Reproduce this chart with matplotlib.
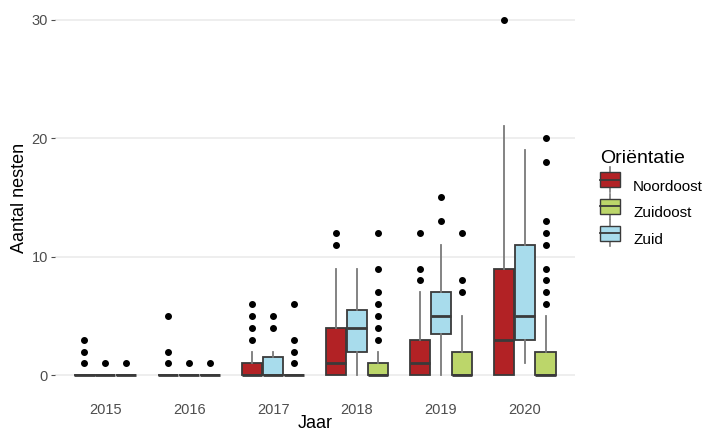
import matplotlib
matplotlib.use("Agg")
import matplotlib.pyplot as plt
from matplotlib.legend_handler import HandlerBase
from matplotlib.patches import Rectangle
from matplotlib.lines import Line2D

plt.rcParams['font.family'] = ['Liberation Sans', 'DejaVu Sans']

jaren = ['2015', '2016', '2017', '2018', '2019', '2020']
reeksen = ['Noordoost', 'Zuid', 'Zuidoost']   # volgorde binnen elk jaar
legende_volgorde = ['Noordoost', 'Zuidoost', 'Zuid']
kleuren = {'Noordoost': '#B22225', 'Zuidoost': '#BCD66A', 'Zuid': '#A8DCEC'}

# boxplot-statistieken per jaar
nd_q1 = [0, 0, 0, 0, 0, 0]
nd_med = [0, 0, 0, 1, 1, 3]
nd_q3 = [0, 0, 1, 4, 3, 9]
nd_lo = [0, 0, 0, 0, 0, 0]
nd_hi = [0, 0, 2, 9, 7, 21]
nd_out = [[1, 2, 3], [1, 2, 5], [3, 4, 5, 6], [11, 12], [8, 9, 12], [30]]

z_q1 = [0, 0, 0, 2, 3.5, 3]
z_med = [0, 0, 0, 4, 5, 5]
z_q3 = [0, 0, 1.5, 5.5, 7, 11]
z_lo = [0, 0, 0, 0, 0, 1]
z_hi = [0, 0, 2, 9, 11, 19]
z_out = [[1], [1], [4, 5], [], [13, 15], []]

zo_q1 = [0, 0, 0, 0, 0, 0]
zo_med = [0, 0, 0, 0, 0, 0]
zo_q3 = [0, 0, 0, 1, 2, 2]
zo_lo = [0, 0, 0, 0, 0, 0]
zo_hi = [0, 0, 0, 2, 5, 5]
zo_out = [[1], [1], [1, 2, 3, 6], [3, 4, 5, 6, 7, 9, 12], [7, 8, 12],
          [6, 7, 8, 9, 11, 12, 13, 18, 20]]

stats = {
    'Noordoost': (nd_q1, nd_med, nd_q3, nd_lo, nd_hi, nd_out),
    'Zuid': (z_q1, z_med, z_q3, z_lo, z_hi, z_out),
    'Zuidoost': (zo_q1, zo_med, zo_q3, zo_lo, zo_hi, zo_out),
}

rand = '#3A3A3A'
snor = '#7A7A7A'

fig = plt.figure(figsize=(7.08, 4.33), dpi=100)
ax = fig.add_axes([55 / 708, 1 - 393 / 433, (575 - 55) / 708, (393 - 2) / 433])

breedte = 0.25
for k, naam in enumerate(reeksen):
    q1, med, q3, lo, hi, out = stats[naam]
    bxp = []
    for i in range(len(jaren)):
        bxp.append(dict(q1=q1[i], med=med[i], q3=q3[i],
                        whislo=lo[i], whishi=hi[i], fliers=out[i]))
    pos = [i + 1 + (k - 1) * breedte for i in range(len(jaren))]
    ax.bxp(bxp, positions=pos, widths=breedte * 0.97, patch_artist=True,
           showcaps=False,
           boxprops=dict(facecolor=kleuren[naam], edgecolor=rand, linewidth=1.3),
           medianprops=dict(color=rand, linewidth=2.0),
           whiskerprops=dict(color=snor, linewidth=1.3),
           flierprops=dict(marker='o', markerfacecolor='black',
                           markeredgecolor='black', markersize=4),
           manage_ticks=False, zorder=3)

ax.set_xlim(0.4, 6.6)
ax.set_ylim(-1.5, 31.5)
ax.set_xticks(range(1, 7))
ax.set_xticklabels(jaren)
ax.set_yticks([0, 10, 20, 30])
ax.grid(axis='y', color='#EBEBEB', linewidth=1.2, zorder=0)
ax.set_axisbelow(True)
for s in ax.spines.values():
    s.set_visible(False)
ax.tick_params(axis='y', length=3, color='#4D4D4D', labelcolor='#4D4D4D',
               labelsize=10.5, pad=2)
ax.tick_params(axis='x', length=0, labelcolor='#4D4D4D', labelsize=10.5, pad=7)
ax.set_xlabel('Jaar', fontsize=13, color='black', labelpad=-1)
ax.set_ylabel('Aantal nesten', fontsize=13, color='black', labelpad=3)


class BoxHandler(HandlerBase):
    def create_artists(self, legend, orig, xd, yd, w, h, fontsize, trans):
        kleur = orig.get_facecolor()
        cx = xd + w / 2
        lijn = Line2D([cx, cx], [yd - h * 0.3, yd + h * 1.3], color=snor,
                      linewidth=1.2, transform=trans)
        box = Rectangle((xd, yd + h * 0.05), w, h * 0.9,
                        facecolor=kleur, edgecolor=rand, linewidth=1.0,
                        transform=trans)
        mid = Line2D([xd, xd + w], [yd + h / 2, yd + h / 2],
                     color=rand, linewidth=1.3, transform=trans)
        return [lijn, box, mid]


handles = [Rectangle((0, 0), 1, 1, facecolor=kleuren[n]) for n in legende_volgorde]
leg = fig.legend(handles, legende_volgorde, loc='upper left',
                 bbox_to_anchor=(592 / 708, 1 - 142 / 433), frameon=False,
                 title='Oriëntatie', title_fontsize=14, fontsize=11,
                 handler_map={Rectangle: BoxHandler()}, borderpad=0,
                 handlelength=1.35, handleheight=1.25, labelspacing=0.7,
                 handletextpad=0.85, alignment='left')

fig.savefig('out.png', dpi=100, facecolor='white')
